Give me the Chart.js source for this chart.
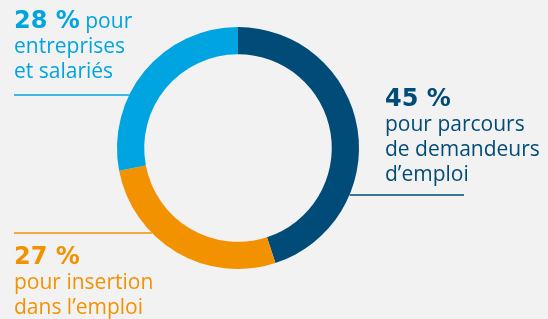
<!DOCTYPE html>
<html><head><meta charset="utf-8">
<script src="https://cdn.jsdelivr.net/npm/chart.js@4.4.0/dist/chart.umd.min.js"></script>
<style>
html,body{margin:0;padding:0;background:#f2f2f2;}
#wrap{position:relative;width:548px;height:319px;overflow:hidden;}
canvas{position:absolute;left:0;top:0;}
.lbl{position:absolute;font-family:"Open Sans",sans-serif;font-size:21px;white-space:nowrap;}
.lbl div{position:absolute;left:0;line-height:25px;height:25px;}
.big{font-family:"DejaVu Sans",sans-serif;font-weight:bold;font-size:24px;}
</style></head>
<body><div id="wrap"><canvas id="c" width="548" height="319"></canvas></div>
<script>
const categories = ["pour parcours de demandeurs d’emploi", "pour insertion dans l’emploi", "pour entreprises et salariés"];
const values = [45, 27, 28];
const pctLabels = ["45 %", "27 %", "28 %"];
const colors = ["#004b78", "#f39200", "#00a4e0"];
const textLines = [["pour parcours", "de demandeurs", "d’emploi"], ["pour insertion", "dans l’emploi"], ["entreprises", "et salariés"]];

// label blocks: [left, top, lines y-offsets], leader line y and x extents
const blocks = [
  {i:0, x:385, y:86, lineY:195, lx:464, side:"right"},
  {i:1, x:14, y:244, lineY:233, lx:14, side:"left"},
  {i:2, x:14, y:8, lineY:95, lx:14, side:"left"}
];
const wrap = document.getElementById('wrap');
blocks.forEach(b=>{
  const d = document.createElement('div');
  d.className='lbl'; d.style.left=b.x+'px'; d.style.top=b.y+'px'; d.style.color=colors[b.i];
  let html;
  if (b.i===2) {
    html = '<div style="top:0"><span class="big">'+pctLabels[b.i]+'</span> '+'pour'+'</div>';
    textLines[b.i].forEach((t,k)=>{ html += '<div style="top:'+(25*(k+1))+'px">'+t+'</div>'; });
  } else {
    html = '<div style="top:0"><span class="big">'+pctLabels[b.i]+'</span></div>';
    textLines[b.i].forEach((t,k)=>{ html += '<div style="top:'+(25*(k+1))+'px">'+t+'</div>'; });
  }
  d.innerHTML = html;
  wrap.appendChild(d);
});

const leader = {
  id:'leader',
  afterDraw(chart){
    const meta = chart.getDatasetMeta(0);
    const arc = meta.data[0];
    const cx = arc.x, cy = arc.y, r = arc.outerRadius;
    const ctx = chart.ctx;
    ctx.save();
    ctx.lineWidth = 1.5;
    blocks.forEach(b=>{
      const dy = b.lineY - cy;
      const dx = Math.sqrt(Math.max(0, r*r - dy*dy));
      const xe = b.side==="right" ? cx + dx : cx - dx;
      ctx.strokeStyle = colors[b.i];
      ctx.beginPath();
      ctx.moveTo(b.lx, b.lineY);
      ctx.lineTo(xe, b.lineY);
      ctx.stroke();
    });
    ctx.restore();
  }
};

new Chart(document.getElementById('c'), {
  type:'doughnut',
  data:{labels:categories, datasets:[{data:values, backgroundColor:colors, borderWidth:0}]},
  options:{
    responsive:false, animation:false, cutout:'77.5%',
    layout:{padding:{left:117, right:189, top:27, bottom:50}},
    plugins:{legend:{display:false}, tooltip:{enabled:false}}
  },
  plugins:[leader]
});
</script></body></html>
